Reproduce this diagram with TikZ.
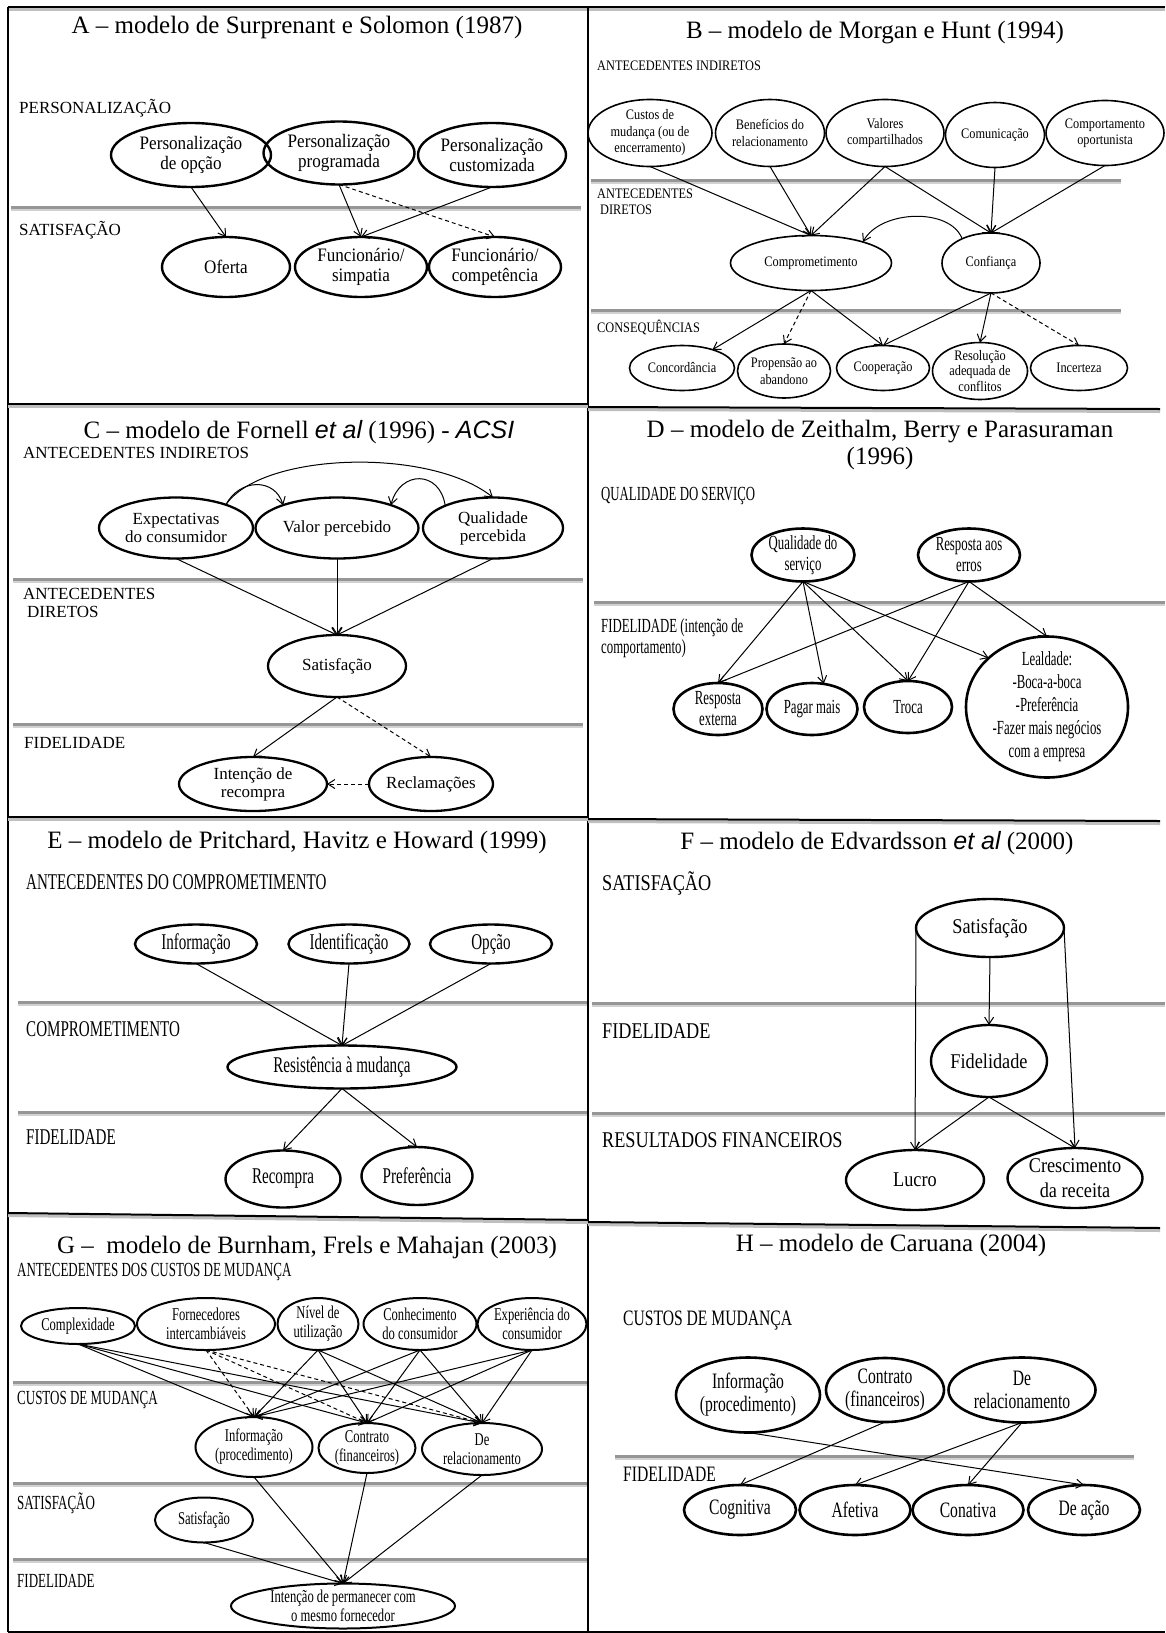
\documentclass[tikz,border=0pt]{standalone}
\usepackage{fontspec}
\setmainfont{Liberation Serif}
\newfontfamily\ftA[FakeStretch=0.9]{Liberation Serif}
\newfontfamily\ftB[FakeStretch=0.85]{Liberation Serif}
\newfontfamily\ftD[FakeStretch=0.64]{Liberation Serif}
\newfontfamily\ftE[FakeStretch=0.67]{Liberation Serif}
\newfontfamily\ftF[FakeStretch=0.81]{Liberation Serif}
\newfontfamily\ftFe[FakeStretch=0.87]{Liberation Serif}
\newfontfamily\ftG[FakeStretch=0.65]{Liberation Serif}
\newfontfamily\ftGe[FakeStretch=0.7]{Liberation Serif}
\newfontfamily\ftH[FakeStretch=0.71]{Liberation Serif}
\newfontfamily\arsit{Liberation Sans}
\usetikzlibrary{shapes.geometric,arrows.meta}
\definecolor{sepgray}{RGB}{150,150,150}
\begin{document}
\begin{tikzpicture}[x=1pt,y=-1pt,
  ttl/.style={inner sep=0pt, align=center, font=\rmfamily\fontsize{25}{27}\selectfont},
  ell/.style={ellipse, draw, line width=2.4pt, inner sep=-1pt, outer sep=0pt, align=center},
  sz/.style 2 args={minimum width=#1pt, minimum height=#2pt},
  eA/.style={ell, font=\ftA\fontsize{19}{20}\selectfont},
  eB/.style={ell, line width=1.6pt, font=\ftB\fontsize{14.5}{16.5}\selectfont},
  eC/.style={ell, line width=2.3pt, font=\rmfamily\fontsize{17}{18}\selectfont},
  eD/.style={ell, line width=2.6pt, font=\ftD\fontsize{20}{21}\selectfont},
  eE/.style={ell, font=\ftE\fontsize{22.5}{24}\selectfont},
  eF/.style={ell, font=\ftFe\fontsize{21}{25}\selectfont},
  eG/.style={ell, line width=2pt, font=\ftGe\fontsize{18}{19}\selectfont},
  eH/.style={ell, line width=2.6pt, font=\ftH\fontsize{22}{23}\selectfont},
  lbl/.style={anchor=west, inner sep=0pt, align=left},
  lA/.style={lbl, font=\rmfamily\fontsize{17}{19}\selectfont},
  lB/.style={lbl, font=\ftB\fontsize{14.5}{16}\selectfont},
  lC/.style={lbl, font=\rmfamily\fontsize{17}{19}\selectfont},
  lD/.style={lbl, font=\ftD\fontsize{20}{21}\selectfont},
  lE/.style={lbl, font=\ftE\fontsize{22.5}{24}\selectfont},
  lF/.style={lbl, font=\ftF\fontsize{22.5}{24}\selectfont},
  lG/.style={lbl, font=\ftG\fontsize{20}{22}\selectfont},
  lH/.style={lbl, font=\ftH\fontsize{22}{24}\selectfont},
  arr/.style={-{Straight Barb[length=7pt,width=9pt]}, line width=1pt},
  darr/.style={arr, dash pattern=on 4pt off 3pt},
  gline/.style={draw=sepgray, line width=3pt, preaction={draw=black!18, line width=3pt, transform canvas={yshift=-2pt}}},
  bline/.style={draw=black, line width=2pt},
  hbline/.style={bline, preaction={draw=black!25, line width=3pt, transform canvas={yshift=-2.5pt}}}
]
\useasboundingbox (0,0) rectangle (1165,1633);
\fill[white] (0,0) rectangle (1165,1633);

% ---------- grey separators ----------
\draw[gline] (11,207) -- (581,207);
\draw[gline] (591,180) -- (1121,180);
\draw[gline] (591,310) -- (1121,310);
\draw[gline] (13,579) -- (583,579);
\draw[gline] (13,724) -- (583,724);
\draw[gline] (594,602) -- (1165,602);
\draw[gline] (18,1002) -- (588,1002);
\draw[gline] (18,1112) -- (588,1112);
\draw[gline] (592,1003) -- (1165,1003);
\draw[gline] (592,1113) -- (1165,1113);
\draw[gline] (13,1382) -- (588,1382);
\draw[gline] (13,1483) -- (588,1483);
\draw[gline] (13,1559) -- (588,1559);
\draw[gline] (615,1456) -- (1134,1456);

% ---------- frame ----------
\draw[hbline] (8,7) -- (1165,7);
\draw[bline] (8,7) -- (8,1632);
\draw[bline] (8,1632) -- (1165,1632);
\draw[bline] (588,7) -- (588,1632);
\draw[hbline] (8,404) -- (588,404);
\draw[hbline] (8,817) -- (588,817);
\draw[hbline] (8,1213) -- (588,1220);
\draw[hbline] (588,407) -- (1160,409);
\draw[hbline] (588,819) -- (1160,821);
\draw[hbline] (588,1222) -- (1160,1228);

% ================= A =================
\node[ttl] (tA) at (297,27) {A – modelo de Surprenant e Solomon (1987)};
\node[lA] (aL1) at (19,108) {PERSONALIZAÇÃO};
\node[lA] (aL2) at (19,230) {SATISFAÇÃO};
\node[eA, sz={160}{64}] (aOpc) at (191,155) {Personalização\\de opção};
\node[eA, sz={151}{63}] (aProg) at (339,153) {Personalização\\programada};
\node[eA, sz={148}{64}] (aCust) at (492,155) {Personalização\\customizada};
\node[eA, sz={128}{60}] (aOfer) at (226,267) {Oferta};
\node[eA, sz={132}{60}] (aSimp) at (361,267) {Funcionário/\\simpatia};
\node[eA, sz={132}{60}] (aComp) at (495,267) {Funcionário/\\competência};
\draw[arr] (aOpc.south) -- (aOfer.north);
\draw[arr] (aProg.south) -- (aSimp.north);
\draw[arr] (aCust.south) -- (aSimp.north);
\draw[darr] (aProg.south) -- (aComp.north);

% ================= B =================
\node[ttl] (tB) at (875,33) {B – modelo de Morgan e Hunt (1994)};
\node[lB] (bL1) at (597,66) {ANTECEDENTES INDIRETOS};
\node[lB] (bL2) at (597,194) {ANTECEDENTES};
\node[lB] (bL3) at (600,210) {DIRETOS};
\node[lB] (bL4) at (597,327) {CONSEQUÊNCIAS};
\node[eB, sz={124}{67}] (bCus) at (650,133) {Custos de\\mudança (ou de\\encerramento)};
\node[eB, sz={109}{67}] (bBen) at (770,133) {Benefícios do\\relacionamento};
\node[eB, sz={118}{67}] (bVal) at (885,133) {Valores\\compartilhados};
\node[eB, sz={99}{65}] (bCom) at (995,135) {Comunicação};
\node[eB, sz={118}{65}] (bOpo) at (1105,133) {Comportamento\\oportunista};
\node[eB, sz={161}{55}] (bCmp) at (811,263) {Comprometimento};
\node[eB, sz={98}{60}] (bCnf) at (991,263) {Confiança};
\node[eB, sz={105}{45}] (bCon) at (682,368) {Concordância};
\node[eB, sz={93}{54}] (bPro) at (784,371) {Propensão ao\\abandono};
\node[eB, sz={93}{45}] (bCoo) at (883,368) {Cooperação};
\node[eB, sz={95}{57}, inner ysep=-5pt, font=\ftB\fontsize{14.5}{15.8}\selectfont] (bRes) at (980,371) {Resolução\\adequada de\\conflitos};
\node[eB, sz={97}{45}] (bInc) at (1079,368) {Incerteza};
\draw[arr] (bCus.south) -- (bCmp.north);
\draw[arr] (bBen.south) -- (bCmp.north);
\draw[arr] (bVal.south) -- (bCmp.north);
\draw[arr] (bVal.south) -- (bCnf.north);
\draw[arr] (bCom.south) -- (bCnf.north);
\draw[arr] (bOpo.south) -- (bCnf.north);
\draw[arr] (bCnf.140) .. controls (950,207) and (880,210) .. (bCmp.22);
\draw[arr] (bCmp.south) -- (bCon);
\draw[darr] (bCmp.south) -- (bPro.north);
\draw[arr] (bCmp.south) -- (bCoo.north);
\draw[arr] (bCnf.south) -- (bCoo.north);
\draw[arr] (bCnf.south) -- (bRes.north);
\draw[darr] (bCnf.south) -- (bInc.north);

% ================= C =================
\node[ttl] (tC) at (299,432) {C – modelo de Fornell {\arsit\itshape et al} (1996) - {\arsit\itshape ACSI}};
\node[lC] (cL1) at (23,453) {ANTECEDENTES INDIRETOS};
\node[lC] (cL2) at (23,594) {ANTECEDENTES};
\node[lC] (cL3) at (27,612) {DIRETOS};
\node[lC] (cL4) at (24,743) {FIDELIDADE};
\node[eC, sz={154}{61}] (cExp) at (176,528) {Expectativas\\do consumidor};
\node[eC, sz={163}{61}] (cVal) at (337,528) {Valor percebido};
\node[eC, sz={140}{61}] (cQua) at (493,528) {Qualidade\\percebida};
\node[eC, sz={138}{62}] (cSat) at (337,666) {Satisfação};
\node[eC, sz={148}{54}] (cInt) at (253,784) {Intenção de\\recompra};
\node[eC, sz={124}{54}] (cRec) at (431,784) {Reclamações};
\draw[arr] (cExp.25) .. controls (262,452) and (430,447) .. (cQua.north);
\draw[arr] (cExp.25) .. controls (240,478) and (275,478) .. (cVal.157);
\draw[arr] (cQua.155) .. controls (440,470) and (400,470) .. (cVal.23);
\draw[arr] (cExp.south) -- (cSat.north);
\draw[arr] (cVal.south) -- (cSat.north);
\draw[arr] (cQua.south) -- (cSat.north);
\draw[arr] (cSat.south) -- (cInt.north);
\draw[darr] (cSat.south) -- (cRec.north);
\draw[darr] (cRec.west) -- (cInt.east);

% ================= D =================
\node[ttl] (tD) at (880,445) {D – modelo de Zeithalm, Berry e Parasuraman\\(1996)};
\node[lD] (dL1) at (601,496) {QUALIDADE DO SERVIÇO};
\node[lD] (dL2) at (601,638.5) {FIDELIDADE (intenção de\\comportamento)};
\node[eD, sz={103}{53}] (dQua) at (803,555) {Qualidade do\\serviço};
\node[eD, sz={102}{53}] (dRes) at (969,555) {Resposta aos\\erros};
\node[eD, sz={89}{52}] (dExt) at (718,709) {Resposta\\externa};
\node[eD, sz={91}{52}] (dPag) at (812,709) {Pagar mais};
\node[eD, sz={88}{52}] (dTro) at (908,707) {Troca};
\node[eD, sz={162}{141}, inner ysep=-6pt, font=\ftD\fontsize{20}{23}\selectfont] (dLea) at (1047,707) {Lealdade:\\-Boca-a-boca\\-Preferência\\-Fazer mais negócios\\com a empresa};
\draw[arr] (dQua.south) -- (dExt.north);
\draw[arr] (dQua.south) -- (dPag.65);
\draw[arr] (dQua.south) -- (dTro.north);
\draw[arr] (dQua.south) -- (dLea.140);
\draw[arr] (dRes.south) -- (dExt.north);
\draw[arr] (dRes.south) -- (dTro.north);
\draw[arr] (dRes.south) -- (dLea.north);

% ================= E =================
\node[ttl] (tE) at (297,842) {E – modelo de Pritchard, Havitz e Howard (1999)};
\node[lE] (eL1) at (26,882) {ANTECEDENTES DO COMPROMETIMENTO};
\node[lE] (eL2) at (26,1029) {COMPROMETIMENTO};
\node[lE] (eL3) at (26,1137) {FIDELIDADE};
\node[eE, sz={122}{39}] (eInf) at (196,944) {Informação};
\node[eE, sz={121}{39}] (eIde) at (349,944) {Identificação};
\node[eE, sz={122}{39}] (eOpc) at (491,944) {Opção};
\node[eE, sz={229}{43}] (eRes) at (342,1067) {Resistência à mudança};
\node[eE, sz={115}{57}] (eRec) at (283,1179) {Recompra};
\node[eE, sz={111}{58}] (ePre) at (417,1176) {Preferência};
\draw[arr] (eInf.south) -- (eRes.north);
\draw[arr] (eIde.south) -- (eRes.north);
\draw[arr] (eOpc.south) -- (eRes.north);
\draw[arr] (eRes.south) -- (eRec.north);
\draw[arr] (eRes.south) -- (ePre.north);

% ================= F =================
\node[ttl] (tF) at (877,843) {F – modelo de Edvardsson {\arsit\itshape et al} (2000)};
\node[lF] (fL1) at (602,883) {SATISFAÇÃO};
\node[lF] (fL2) at (602,1031) {FIDELIDADE};
\node[lF] (fL3) at (602,1140) {RESULTADOS FINANCEIROS};
\node[eF, sz={148}{58}] (fSat) at (990,928) {Satisfação};
\node[eF, sz={116}{72}] (fFid) at (989,1061) {Fidelidade};
\node[eF, sz={138}{60}] (fLuc) at (915,1180) {Lucro};
\node[eF, sz={135}{60}, inner ysep=-2pt] (fCre) at (1075,1178) {Crescimento\\da receita};
\draw[arr] (fSat.south) -- (fFid.north);
\draw[arr] (fSat.west) -- (fLuc.north);
\draw[arr] (fSat.east) -- (fCre.north);
\draw[arr] (fFid.south) -- (fLuc.north);
\draw[arr] (fFid.south) -- (fCre.north);

% ================= G =================
\node[ttl] (tG) at (307,1247) {G –\ \ modelo de Burnham, Frels e Mahajan (2003)};
\node[lG] (gL1) at (17,1272) {ANTECEDENTES DOS CUSTOS DE MUDANÇA};
\node[lG] (gL2) at (17,1400) {CUSTOS DE MUDANÇA};
\node[lG] (gL3) at (17,1503) {SATISFAÇÃO};
\node[lG] (gL4) at (17,1581) {FIDELIDADE};
\node[eG, sz={114}{36}] (gCpx) at (78,1326) {Complexidade};
\node[eG, sz={138}{52}] (gFor) at (206,1324) {Fornecedores\\intercambiáveis};
\node[eG, sz={81}{52}] (gNiv) at (318,1324) {Nível de\\utilização};
\node[eG, sz={113}{52}] (gCon) at (420,1324) {Conhecimento\\do consumidor};
\node[eG, sz={109}{52}] (gExp) at (532,1324) {Experiência do\\consumidor};
\node[eG, sz={117}{60}] (gInf) at (254,1447) {Informação\\(procedimento)};
\node[eG, sz={97}{50}] (gCtr) at (367,1448) {Contrato\\(financeiros)};
\node[eG, sz={120}{52}] (gRel) at (482,1449) {De\\relacionamento};
\node[eG, sz={98}{45}] (gSat) at (204,1520) {Satisfação};
\node[eG, sz={224}{45}, inner ysep=-2pt] (gInt) at (343,1606) {Intenção de permanecer com\\o mesmo fornecedor};
\foreach \s in {gCpx,gNiv,gCon,gExp}{
  \foreach \t in {gInf,gCtr,gRel}{
    \draw[arr] (\s.south) -- (\t.north);
  }
}
\foreach \t in {gInf,gCtr,gRel}{
  \draw[darr] (gFor.south) -- (\t.north);
}
\draw[arr] (gInf.south) -- (gInt.north);
\draw[arr] (gCtr.south) -- (gInt.north);
\draw[arr] (gRel.south) -- (gInt.north);
\draw[arr] (gSat.south) -- (gInt.north);

% ================= H =================
\node[ttl] (tH) at (891,1245) {H – modelo de Caruana (2004)};
\node[lH] (hL1) at (623,1321) {CUSTOS DE MUDANÇA};
\node[lH] (hL2) at (623,1474) {FIDELIDADE};
\node[eH, sz={144}{75}] (hInf) at (748,1395) {Informação\\(procedimento)};
\node[eH, sz={118}{64}] (hCtr) at (885,1390) {Contrato\\(financeiros)};
\node[eH, sz={147}{65}] (hRel) at (1022,1390) {De\\relacionamento};
\node[eH, sz={112}{50}] (hCog) at (740,1510) {Cognitiva};
\node[eH, sz={111}{50}] (hAfe) at (855,1510) {Afetiva};
\node[eH, sz={111}{50}] (hCna) at (968,1510) {Conativa};
\node[eH, sz={112}{50}] (hAca) at (1084,1510) {De ação};
\draw[arr] (hCtr.south) -- (hCog.north);
\draw[arr] (hRel.south) -- (hAfe.north);
\draw[arr] (hRel.south) -- (hCna.north);
\draw[arr] (hInf.south) -- (hAca.north);
\end{tikzpicture}
\end{document}
